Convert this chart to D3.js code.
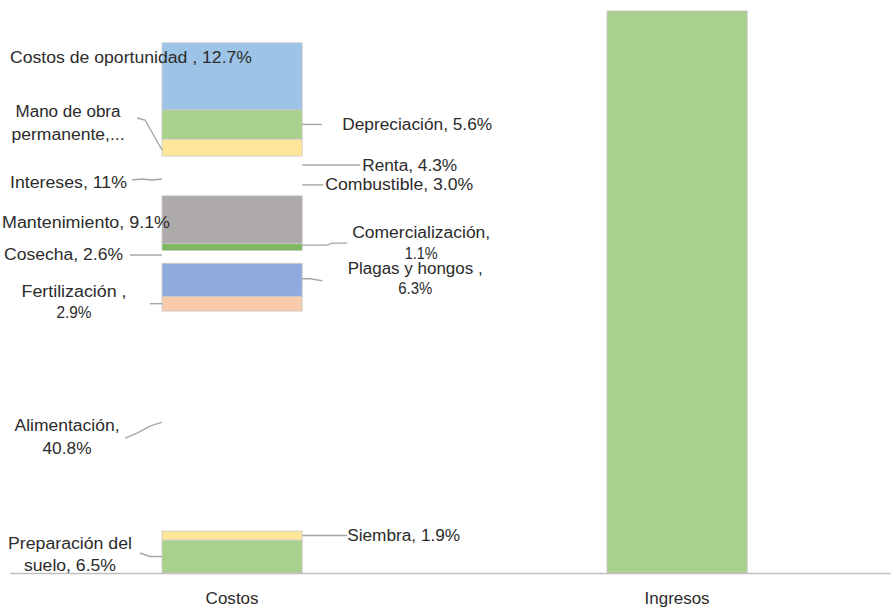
<!DOCTYPE html>
<html>
<head>
<meta charset="utf-8">
<script src="https://cdn.jsdelivr.net/npm/d3@7"></script>
<style>
  html, body { margin: 0; padding: 0; background: #fff; }
  svg text { font-family: "Liberation Sans Narrow", "Arial Narrow", "Liberation Sans", Arial, sans-serif; fill: #2b2b2b; }
</style>
</head>
<body>
<svg id="chart" width="891" height="611"></svg>
<script>
// ---------- DATA ----------
const categories = ["Costos", "Ingresos"];
const costItems = ["Preparación del suelo", "Siembra", "Alimentación", "Fertilización",
  "Plagas y hongos", "Cosecha", "Comercialización", "Mantenimiento", "Combustible",
  "Renta", "Intereses", "Mano de obra permanente", "Depreciación", "Costos de oportunidad"];
const costValues = [6.2, 1.7, 41.4, 2.8, 6.2, 2.4, 1.3, 9.0, 3.0, 4.5, 0, 3.2, 5.5, 12.6];
const costLabels = [
  ["Preparación del", "suelo, 6.5%"], ["Siembra, 1.9%"], ["Alimentación,", "40.8%"],
  ["Fertilización ,", "2.9%"], ["Plagas y hongos ,", "6.3%"], ["Cosecha, 2.6%"],
  ["Comercialización,", "1.1%"], ["Mantenimiento,  9.1%"], ["Combustible, 3.0%"],
  ["Renta, 4.3%"], ["Intereses, 11%"], ["Mano de obra", "permanente,..."],
  ["Depreciación, 5.6%"], ["Costos de oportunidad , 12.7%"]];
const incomeValues = [105.8];

// ---------- STYLES ----------
const costColors = ["#a9d18e", "#ffe699", "none", "#f8cbad", "#8faadc", "none", "#7cb95e",
  "#aeaaaa", "none", "none", "none", "#ffe699", "#a9d18e", "#9dc3e6"];
const incomeColor = "#a9d18e";
const tickWidths = [53, 65];

// label layout: side of bar, leader points and text offsets relative to (bar edge, segment middle)
const labelLayout = [
  {side: "L", leader: [[-22,-3.5],[-12,0],[0,0]], anchor: "middle", dx: -92, dy: [-13.5, 8.5], w: [124, 92]},
  {side: "R", leader: [[0,0],[45,0]], anchor: "start", dx: 45, dy: [0], w: [113]},
  {side: "L", leader: [[0,1],[-12,5],[-25,12],[-37,17]], anchor: "middle", dx: -95, dy: [4, 27], w: [105, 49]},
  {side: "L", leader: [[-12,0],[0,0]], anchor: "middle", dx: -88, dy: [-12, 9], w: [105, 35]},
  {side: "R", leader: [[0,-1],[8,-1],[20,1]], anchor: "middle", dx: 113, dy: [-11, 9], w: [135, 34]},
  {side: "L", leader: [[-32,-2],[0,-2]], anchor: "end", dx: -39, dy: [-3], w: [119]},
  {side: "R", leader: [[0,-2],[25,-2],[30,-4],[45,-4]], anchor: "middle", dx: 119, dy: [-15, 6], w: [138, 33]},
  {side: "L", leader: null, anchor: "end", dx: 8, dy: [3], w: [168]},
  {side: "R", leader: [[0,-3],[21,-3]], anchor: "start", dx: 23, dy: [-3], w: [148]},
  {side: "R", leader: [[0,-3],[58,-3]], anchor: "start", dx: 60, dy: [-3], w: [95]},
  {side: "L", leader: [[-30,24],[-20,23],[-10,24],[0,23]], anchor: "end", dx: -35, dy: [26], w: [117]},
  {side: "L", leader: [[0,2.5],[-17,-27.5],[-25,-29.5]], anchor: "middle", dx: -94, dy: [-36.5, -13.5], w: [105, 113]},
  {side: "R", leader: [[0,0],[20,0]], anchor: "start", dx: 40, dy: [0], w: [150]},
  {side: "L", leader: null, anchor: "start", dx: -152, dy: [-19], w: [242]}
];

// ---------- CHART ----------
const svg = d3.select("#chart");
const baseY = 573, topY = 11;

const x = d3.scaleBand().domain(categories).range([9.6, 899.6])
  .paddingInner(0.685).paddingOuter(0.3425);
const y = d3.scaleLinear().domain([0, d3.max(incomeValues)]).range([baseY, topY]);

// stack costs
const row = {};
costItems.forEach((k, i) => row[k] = costValues[i]);
const stacked = d3.stack().keys(costItems)([row]);

const gBars = svg.append("g");
gBars.selectAll("rect.cost")
  .data(stacked)
  .join("rect")
  .attr("class", "cost")
  .attr("x", x("Costos"))
  .attr("width", x.bandwidth())
  .attr("y", d => y(d[0][1]))
  .attr("height", d => y(d[0][0]) - y(d[0][1]))
  .attr("fill", (d, i) => costColors[i] === "none" ? "none" : costColors[i])
  .attr("stroke", (d, i) => costColors[i] === "none" ? "none" : "#c9c9c9")
  .attr("stroke-width", 0.8);

gBars.selectAll("rect.inc")
  .data(incomeValues)
  .join("rect")
  .attr("class", "inc")
  .attr("x", x("Ingresos"))
  .attr("width", x.bandwidth())
  .attr("y", d => y(d))
  .attr("height", d => y(0) - y(d))
  .attr("fill", incomeColor)
  .attr("stroke", "#c4c4c4")
  .attr("stroke-width", 0.8);

// axis
const axis = d3.axisBottom(x).tickSize(0).tickPadding(20);
const gAxis = svg.append("g").attr("transform", `translate(0,${baseY})`).call(axis);
gAxis.select(".domain").attr("stroke", "#bfbfbf").attr("stroke-width", 1.6);
gAxis.selectAll(".tick text")
  .style("font-family", "'Liberation Sans Narrow', 'Arial Narrow', 'Liberation Sans', Arial, sans-serif")
  .style("font-size", "16px")
  .attr("fill", "#2b2b2b")
  .attr("textLength", (d, i) => tickWidths[i])
  .attr("lengthAdjust", "spacingAndGlyphs");

// labels
const gLab = svg.append("g");
const line = d3.line();
stacked.forEach((s, i) => {
  const L = labelLayout[i];
  const edgeX = L.side === "L" ? x("Costos") : x("Costos") + x.bandwidth();
  const midY = (y(s[0][0]) + y(s[0][1])) / 2;
  if (L.leader) {
    gLab.append("path")
      .attr("d", line(L.leader.map(p => [edgeX + p[0], midY + p[1]])))
      .attr("fill", "none")
      .attr("stroke", "#a6a6a6")
      .attr("stroke-width", 1.4);
  }
  costLabels[i].forEach((t, j) => {
    gLab.append("text")
      .attr("x", edgeX + L.dx)
      .attr("y", midY + L.dy[j])
      .attr("dy", "0.35em")
      .attr("text-anchor", L.anchor)
      .attr("textLength", L.w[j])
      .attr("lengthAdjust", "spacingAndGlyphs")
      .style("font-size", "16px")
      .text(t);
  });
});
</script>
</body>
</html>
